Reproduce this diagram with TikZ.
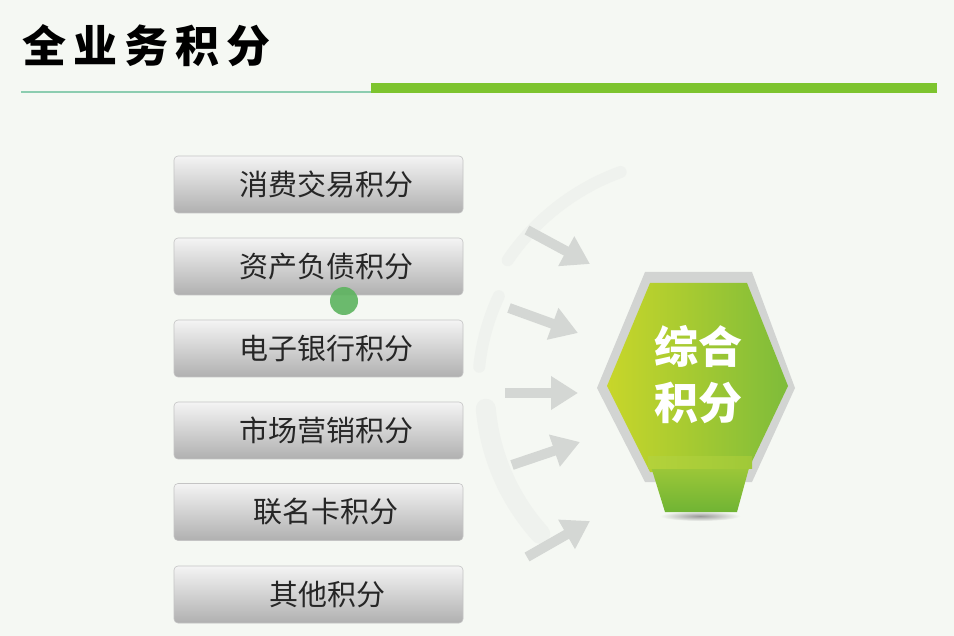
\documentclass[tikz,border=0pt]{standalone}
\usepackage{fontspec}
\newfontfamily\cjk{Noto Sans CJK SC}
\usetikzlibrary{arrows.meta}
\definecolor{bg}{HTML}{F5F8F3}
\definecolor{boxtop}{HTML}{F4F4F4}
\definecolor{boxbot}{HTML}{B0B0B0}
\definecolor{boxedge}{HTML}{C4C4C4}
\definecolor{arrgrey}{HTML}{D4D7D4}
\definecolor{faint}{HTML}{EFF2EE}
\definecolor{tealline}{HTML}{8CCDB0}
\definecolor{barGreen}{HTML}{7DC42E}
\definecolor{dotgreen}{HTML}{5DB45F}
\definecolor{hexgrey}{HTML}{D2D4D2}
\definecolor{hexleft}{HTML}{C8D62A}
\definecolor{hexright}{HTML}{7EBC3A}
\definecolor{ribtop}{HTML}{B4D23A}
\definecolor{ribbot}{HTML}{70B434}
\tikzset{
  itembox/.style={rectangle, rounded corners=4pt, minimum width=289pt, minimum height=57pt,
    top color=boxtop, bottom color=boxbot, draw=boxedge, line width=0.6pt,
    font=\cjk\fontsize{29}{29}\selectfont, text=black!85, inner sep=0pt},
  arr/.style={draw=arrgrey, line width=10pt, -{Triangle[length=0pt 2.7 0, width=0pt 3.2 0]}},
  faintarc/.style={draw=faint, line width=12pt, line cap=round},
  hubtext/.style={font=\cjk\bfseries\fontsize{44}{56}\selectfont, align=center, inner sep=0pt}
}
\begin{document}
\begin{tikzpicture}[x=1pt,y=-1pt]
\useasboundingbox (0,0) rectangle (954,636);
\fill[bg] (0,0) rectangle (954,636);

% title
\node[anchor=west, font=\cjk\bfseries\fontsize{44}{44}\selectfont, inner sep=0pt] (title) at (22,46)
  {全\hspace{7pt}业\hspace{7pt}务\hspace{7pt}积\hspace{7pt}分};
\draw[tealline, line width=2pt] (21,92) -- (371,92);
\fill[barGreen] (371,83) rectangle (937,93);

% faint background arcs
\draw[faintarc] (700,390) ++(250:232) arc[start angle=250, end angle=214, radius=232];
\draw[faintarc] (700,390) ++(205:222) arc[start angle=205, end angle=186, radius=222];
\draw[faintarc, line width=20pt] (700,390) ++(175:215) arc[start angle=175, end angle=138, radius=215];

% left boxes
\node[itembox] (b1) at (318.5,184.5) {\hspace*{16pt}消费交易积分};
\node[itembox] (b2) at (318.5,266.5) {\hspace*{16pt}资产负债积分};
\node[itembox] (b3) at (318.5,348.5) {\hspace*{16pt}电子银行积分};
\node[itembox] (b4) at (318.5,430.5) {\hspace*{16pt}市场营销积分};
\node[itembox] (b5) at (318.5,512) {\hspace*{14pt}联名卡积分};
\node[itembox] (b6) at (318.5,594.5) {\hspace*{18pt}其他积分};

% green dot
\node[circle, fill=dotgreen, opacity=0.9, minimum size=28pt, inner sep=0pt] (dot) at (344,301) {};

% hexagon
\fill[hexgrey] (645,272) -- (752,272) -- (795,388) -- (752,482) -- (645,482) -- (597,388) -- cycle;
\shade[left color=hexleft, right color=hexright]
  (650,283) -- (747,283) -- (788,386) -- (747,472) -- (650,472) -- (607,386) -- cycle;
% shadow
\shade[inner color=black!40, outer color=bg] (700,516) ellipse (40 and 5);
% ribbon
\shade[top color=ribtop!80!ribbot, bottom color=ribbot]
  (648,457) -- (752,457) -- (737,512) -- (665,512) -- cycle;
\shade[left color=ribtop, right color=ribtop!70!ribbot] (648,457) rectangle (752,469);

% hub text
\node[hubtext, text=white] (hub) at (698,375) {综合\\积分};

% arrows
\coordinate (a1s) at (527,230); \coordinate (a1e) at (590,264);
\coordinate (a2s) at (509,308); \coordinate (a2e) at (578,333);
\coordinate (a3s) at (505,393); \coordinate (a3e) at (578,393);
\coordinate (a4s) at (512,465); \coordinate (a4e) at (580,442);
\coordinate (a5s) at (527,557); \coordinate (a5e) at (590,521);
\draw[arr] (a1s) -- (a1e);
\draw[arr] (a2s) -- (a2e);
\draw[arr] (a3s) -- (a3e);
\draw[arr] (a4s) -- (a4e);
\draw[arr] (a5s) -- (a5e);
\end{tikzpicture}
\end{document}
